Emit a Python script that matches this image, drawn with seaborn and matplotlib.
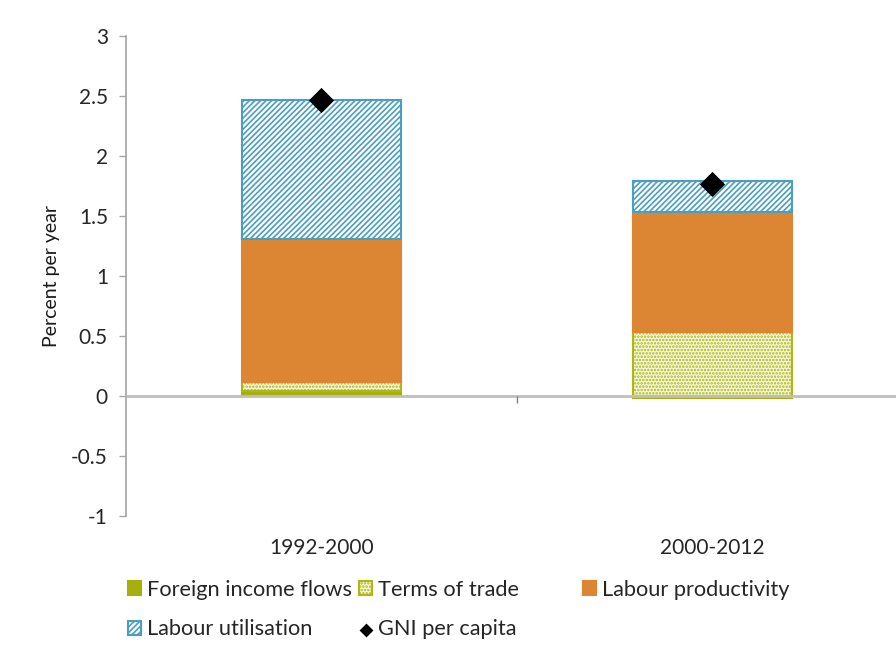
import numpy as np
import matplotlib
matplotlib.use("Agg")
import matplotlib.pyplot as plt
import seaborn as sns

# Data (percent per year)
periods = ["1992-2000", "2000-2012"]
foreign_income = [0.04, -0.02]
terms_of_trade = [0.08, 0.53]
labour_productivity = [1.19, 1.00]
labour_utilisation = [1.16, 0.26]
gni_per_capita = [2.47, 1.77]

sns.set_theme(style="white")
plt.rcParams["font.family"] = ["Lato", "DejaVu Sans"]
plt.rcParams["hatch.linewidth"] = 1.2

fig = plt.figure(figsize=(8.96, 6.47), dpi=100)
ax = fig.add_axes([0.1406, 0.2025, 0.8728, 0.7419])

# stacking: positives stack up from 0, negatives stack down
series = [
    ("Foreign income flows", foreign_income, dict(color="#A7AF0E", edgecolor="#A7AF0E")),
    ("Terms of trade", terms_of_trade, dict(color="#F5F7DE", edgecolor="#AEB716", hatch=".....")),
    ("Labour productivity", labour_productivity, dict(color="#DC8533", edgecolor="#DC8533")),
    ("Labour utilisation", labour_utilisation, dict(color="white", edgecolor="#4A9EC0", hatch="//////")),
]
pos_base = np.zeros(len(periods))
neg_base = np.zeros(len(periods))
for name, vals, style in series:
    vals = np.array(vals)
    bottom = np.where(vals >= 0, pos_base, neg_base)
    sns.barplot(x=periods, y=vals, bottom=bottom, width=0.405, saturation=1,
                errorbar=None, linewidth=1.5, label=name, ax=ax, **style)
    pos_base = pos_base + np.clip(vals, 0, None)
    neg_base = neg_base + np.clip(vals, None, 0)

sns.scatterplot(x=periods, y=gni_per_capita, marker="D", s=165, color="black",
                edgecolor="black", linewidth=0, label="GNI per capita", zorder=5, ax=ax)

# axes styling
ax.set_xlim(-0.5, 1.5)
ax.set_ylim(-1, 3)
ax.set_yticks(np.arange(-1, 3.01, 0.5))
ax.set_yticklabels(["-1", "-0.5", "0", "0.5", "1", "1.5", "2", "2.5", "3"])
ax.set_ylabel("Percent per year", fontsize=14, color="#1a1a1a", labelpad=8)
ax.set_xlabel("")
for s in ["top", "right"]:
    ax.spines[s].set_visible(False)
ax.spines["left"].set_color("#A6A6A6")
ax.spines["bottom"].set_position(("data", 0))
ax.spines["bottom"].set_color("#BFBFBF")
ax.spines["bottom"].set_linewidth(2)
ax.tick_params(axis="y", direction="out", length=5, width=1, color="#A6A6A6",
               labelsize=15, labelcolor="#262626", left=True, pad=8)
ax.set_xticks([0.5])
ax.set_xticklabels([""])
ax.set_xticks([0, 1], minor=True)
ax.set_xticklabels(periods, minor=True)
ax.tick_params(axis="x", which="major", direction="out", length=5, width=1,
               color="#808080", bottom=True)
ax.tick_params(axis="x", which="minor", length=0, pad=102, labelsize=15,
               labelcolor="#262626")
ax.set_axisbelow(False)

handles, labels = ax.get_legend_handles_labels()
if ax.legend_:
    ax.legend_.remove()
h = dict(zip(labels, handles))

leg_kw = dict(frameon=False, fontsize=15.7, handlelength=0.6, handleheight=0.6,
              handletextpad=0.25, borderpad=0, borderaxespad=0, labelcolor="#262626",
              labelspacing=0.9, markerscale=0.55)
order = ["Foreign income flows", "Labour utilisation", "Terms of trade", "GNI per capita"]
fig.legend([h[k] for k in order], order, ncol=2, loc="upper left",
           bbox_to_anchor=(0.143, 0.104), columnspacing=0.35, **leg_kw)
fig.legend([h["Labour productivity"]], ["Labour productivity"], loc="upper left",
           bbox_to_anchor=(0.651, 0.104), **leg_kw)

fig.savefig("out.png", dpi=100)
